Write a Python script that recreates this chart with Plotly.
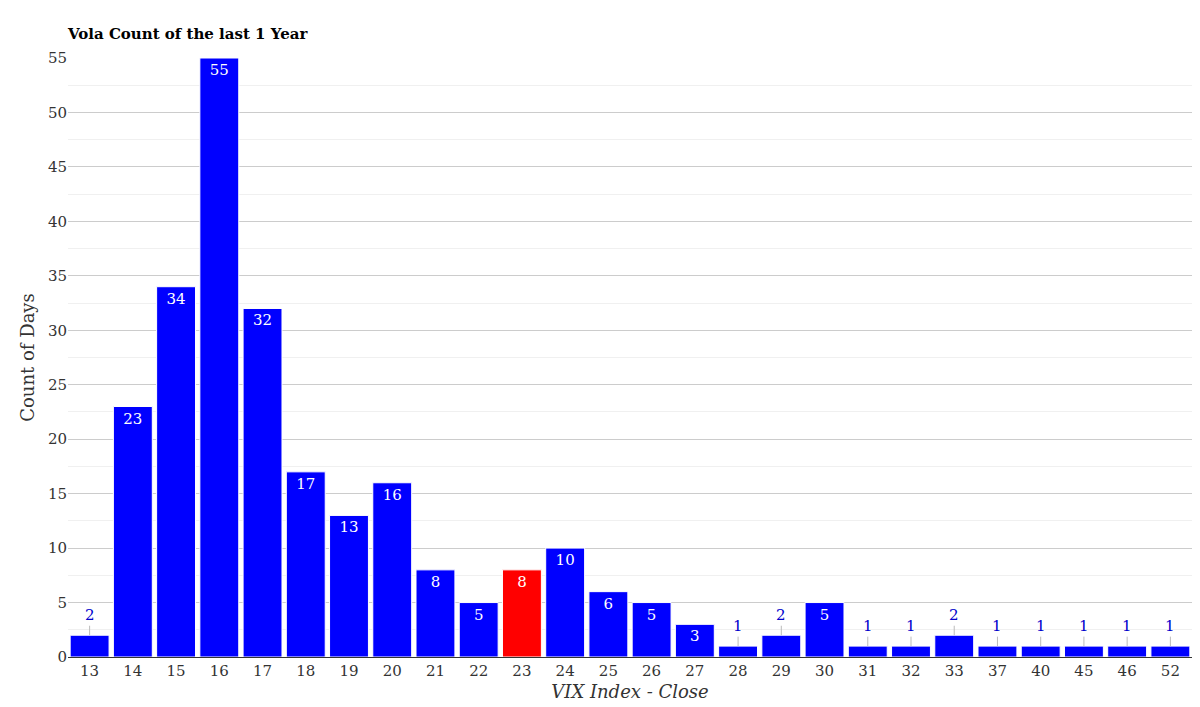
import plotly.graph_objects as go

categories = ["13","14","15","16","17","18","19","20","21","22","23","24","25","26","27","28","29","30","31","32","33","37","40","45","46","52"]
counts = [2,23,34,55,32,17,13,16,8,5,8,10,6,5,3,1,2,5,1,1,2,1,1,1,1,1]
highlight = "23"

colors = ["red" if c == highlight else "blue" for c in categories]
inside_text = [str(v) if v >= 3 else "" for v in counts]

fig = go.Figure(go.Bar(
    x=categories, y=counts, marker=dict(color=colors, line=dict(color="white", width=1)),
    text=inside_text, textposition="inside", insidetextanchor="end", textangle=0,
    textfont=dict(color="white", size=15, family="DejaVu Serif"),
    hoverinfo="x+y",
))

for i, v in enumerate(counts):
    if v < 3:
        fig.add_annotation(x=i, y=v, xref="x", yref="y", text=str(v), showarrow=True,
                           arrowhead=0, arrowwidth=1, arrowcolor="#bbbbbb", ax=0, ay=-20,
                           font=dict(color="#0000cc", size=15, family="DejaVu Serif"))

fig.update_layout(
    width=1200, height=707,
    margin=dict(l=60, r=16, t=50, b=58),
    paper_bgcolor="white", plot_bgcolor="white",
    font=dict(family="DejaVu Serif", size=15, color="#333"),
    title=dict(text="<b>Vola Count of the last 1 Year</b>", x=0, xref="paper", xanchor="left",
               y=0.963, yanchor="middle", font=dict(size=15, color="black")),
    bargap=0.1,
    uniformtext=dict(mode=False),
    showlegend=False,
    xaxis=dict(title=dict(text="<i>VIX Index - Close</i>", standoff=6), showline=True,
               linecolor="#333", linewidth=1, ticks="", type="category",
               range=[-0.5, len(categories) - 0.5], automargin=False),
    yaxis=dict(title=dict(text="Count of Days", standoff=8), range=[0, 55], dtick=5,
               gridcolor="#cccccc", zeroline=False, automargin=False,
               minor=dict(dtick=2.5, showgrid=True, gridcolor="#f0f0f0")),
)

fig.write_html("out.html")
